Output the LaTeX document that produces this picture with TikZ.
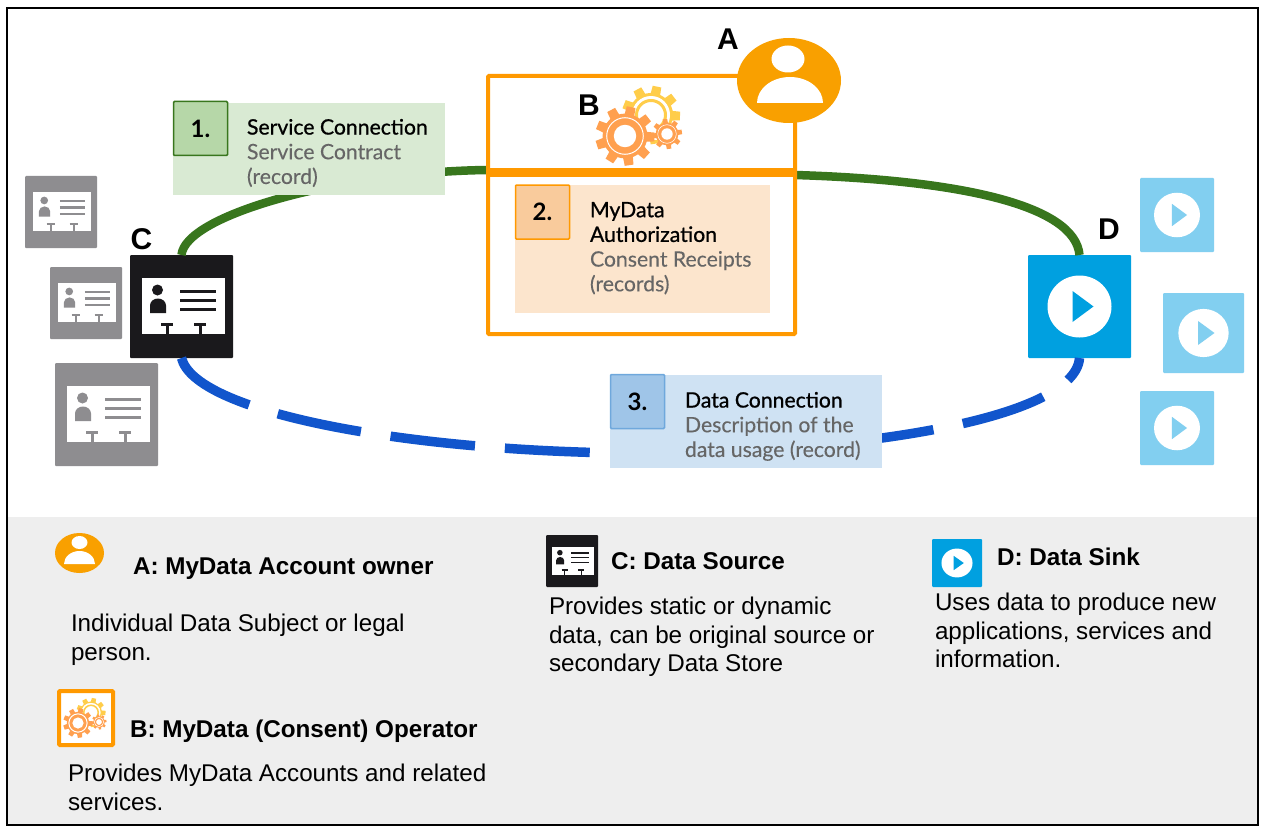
\documentclass[tikz,border=0pt]{standalone}
\usepackage{fontspec}
\usetikzlibrary{shapes.geometric}
\setmainfont{Liberation Sans}
\newfontfamily\latofont[FakeBold=0.2]{Lato}
\newfontfamily\latomed[FakeBold=0.8]{Lato}
\newfontfamily\latonum{Lato}
\definecolor{cgreen}{HTML}{38761D}
\definecolor{cblue}{HTML}{1155CC}
\definecolor{corange}{HTML}{FF9900}
\definecolor{cperson}{HTML}{F9A000}
\definecolor{cblack}{HTML}{1A191C}
\definecolor{cgrey}{HTML}{8E8D90}
\definecolor{csink}{HTML}{00A0E0}
\definecolor{clight}{HTML}{82CFF0}
\definecolor{gearO}{HTML}{FFA04F}
\definecolor{gearY}{HTML}{FFCD4A}
\definecolor{noteG}{HTML}{D9EAD3}
\definecolor{numG}{HTML}{B6D7A8}
\definecolor{noteO}{HTML}{FCE5CD}
\definecolor{numO}{HTML}{F9CB9C}
\definecolor{noteB}{HTML}{CFE2F3}
\definecolor{numB}{HTML}{9FC5E8}
\definecolor{edgeB}{HTML}{6FA8DC}
\definecolor{legendbg}{HTML}{EEEEEE}
\newcommand\cardicon[5]{%
  \node[iconbox,fill=#5,minimum size=#4] (#1) at (#2,#3) {};
  \begin{scope}[shift={(#1.center)},scale=#4/103]
    \fill[white] (-40,-28.5) rectangle (43.5,27.5);
    \fill[#5] (-24,-16.5) circle (5.5);
    \fill[#5] (-31.5,6.5) -- (-31.5,-1) arc[start angle=180,end angle=360,x radius=8,y radius=7] -- (-15.5,6.5) -- cycle;
    \foreach \yy in {-15.5,-6.5,2.5}{\draw[#5,line width=3pt*#4/103] (-1.5,\yy) -- (34.5,\yy);}
    \foreach \xx in {-14.5,18.5}{
      \draw[#5,line width=3pt*#4/103] (\xx,17) -- (\xx,28);
      \draw[#5,line width=3pt*#4/103] (\xx-6,17.5) -- (\xx+6,17.5);}
  \end{scope}}
\newcommand\sinkicon[6]{% name cx cy w h col
  \node[iconbox,fill=#6,minimum width=#4,minimum height=#5] (#1) at (#2,#3) {};
  \begin{scope}[shift={(#1.center)},xscale=#4/103,yscale=#5/103]
    \fill[white] (0,0) ellipse[x radius=32,y radius=31];
    \fill[#6] (-7,-15.5) -- (14,0) -- (-7,15.5) -- cycle;
  \end{scope}}
\newcommand\onegear[5]{% x y r teeth colour
  \begin{scope}[shift={(#1,#2)}]
    \fill[#5] (0,0) circle (#3*0.76);
    \foreach \k in {1,...,#4}{\fill[#5,rotate=\k*360/#4+8] (-#3*0.21,0) -- (#3*0.21,0) -- (#3*0.15,#3) -- (-#3*0.15,#3) -- cycle;}
    \draw[white,line width=1pt*#3/30] (0,0) circle (#3*0.62);
    \fill[white] (0,0) circle (#3*0.38);
  \end{scope}}
\newcommand\gearicon[3]{%
  \begin{scope}[shift={(#1,#2)},scale=#3]
    \onegear{26}{-21}{29}{9}{gearY}
    \fill[white] (26,-21) circle (19);
    \draw[gearY,line width=3pt*#3] (26,-21) circle (14.5);
    \fill[white] (18,-14) rectangle (32,4);
    \onegear{0}{0}{29.5}{9}{gearO}
    \onegear{42}{-2}{15}{8}{gearO}
  \end{scope}}
\tikzset{
  iconbox/.style={inner sep=0pt,outer sep=0pt,rounded corners=1pt,draw=none},
  notebox/.style={inner sep=0pt,outer sep=0pt,minimum width=#1},
  numbox/.style={inner sep=0pt,outer sep=0pt,rounded corners=1pt,minimum size=54pt,line width=1.5pt,font=\latonum\bfseries\fontsize{24}{26}\selectfont},
  boxtxt/.style={inner sep=0pt,outer sep=0pt,anchor=north west,align=left,font=\latofont\fontsize{21.2}{24.7}\selectfont},
  letter/.style={inner sep=0pt,outer sep=0pt,font=\bfseries\fontsize{30}{31}\selectfont},
  legendhead/.style={inner sep=0pt,outer sep=0pt,anchor=base west,font=\bfseries\fontsize{24.25}{28}\selectfont},
  legendtxt/.style={inner sep=0pt,outer sep=0pt,anchor=north west,align=left,font=\fontsize{24.2}{28.7}\selectfont},
  greenline/.style={cgreen,line width=8.5pt},
  blueline/.style={cblue,line width=9.5pt,dash pattern=on 85pt off 30pt},
  personhead/.style={ellipse,fill=cperson,inner sep=0pt,outer sep=0pt},
}
\begin{document}
\begin{tikzpicture}[x=1pt,y=-1pt]
\useasboundingbox (0,0) rectangle (1264,832);
\fill[white] (0,0) rectangle (1264,832);
\fill[legendbg] (8,517) rectangle (1257,824);
\draw[black,line width=2pt] (7,8) rectangle (1258,825);

\cardicon{cardCa}{61}{212}{72}{cgrey}
\cardicon{cardCb}{86}{303}{72}{cgrey}
\cardicon{cardCc}{106.5}{414.5}{103}{cgrey}
\cardicon{cardC}{181.5}{306.5}{103}{cblack}
\sinkicon{sinkDa}{1177}{215}{74}{74}{clight}
\sinkicon{sinkDb}{1203.5}{333}{81}{80}{clight}
\sinkicon{sinkDc}{1177}{428}{74}{74}{clight}
\sinkicon{sinkD}{1079.5}{306.5}{103}{103}{csink}

% connectors
\draw[greenline] (cardC.north) .. controls (185,215) and (340,172) .. (487,170) -- (795,175) .. controls (960,180) and (1075,205) .. (sinkD.north);
\draw[blueline] (cardC.south) .. controls (195,412) and (400,450) .. (620,453) .. controls (850,455) and (1075,420) .. (sinkD.south);

% note 1
\node[notebox=272,minimum height=92,fill=noteG] (noteA) at (309,149) {};
\node[numbox,draw=cgreen,fill=numG] (numA) at (200.5,128.5) {1.\hspace{7pt}};
\node[boxtxt] (txtA) at (247,119) {{\latomed Service Connection}\\\textcolor{black!60}{Service Contract}\\\textcolor{black!60}{(record)}};

% note 3
\node[notebox=272,minimum height=93,fill=noteB] (noteC) at (746,421.5) {};
\node[numbox,draw=edgeB,fill=numB] (numC) at (637.5,401.5) {3.\hspace{12pt}};
\node[boxtxt] (txtC) at (685,392) {{\latomed Data Connection}\\\textcolor{black!60}{Description of the}\\\textcolor{black!60}{data usage (record)}};

% operator
\node[draw=corange,fill=white,line width=4pt,inner sep=0pt,rounded corners=1pt,minimum width=307,minimum height=258] (opbox) at (641.5,205) {};
\draw[corange,line width=9pt] (opbox.west |- 0,173) -- (opbox.east |- 0,173);
\node[notebox=255,minimum height=128,fill=noteO] (noteBx) at (642.5,249) {};
\node[numbox,draw=corange,fill=numO] (numB) at (542.5,212) {2.\hspace{7pt}};
\node[boxtxt] (txtB) at (590,202) {{\latomed MyData}\\{\latomed Authorization}\\\textcolor{black!60}{Consent Receipts}\\\textcolor{black!60}{(records)}};
\gearicon{625}{136}{1}

% A person
\node[personhead,minimum width=104,minimum height=85] (personA) at (789,80.5) {};
\fill[white] (788,59) ellipse[x radius=16.5,y radius=13.5];
\fill[white] (757,103) arc[start angle=180,end angle=360,x radius=33,y radius=26] -- cycle;

\node[letter] (lA) at (728,39) {A};
\node[letter] (lB) at (589,105) {B};
\node[letter] (lC) at (141.5,239) {C};
\node[letter] (lD) at (1109,229) {D};

% legend
\node[personhead,minimum width=49,minimum height=40] (legA) at (79.5,553) {};
\fill[white] (79.5,542.5) ellipse[x radius=8,y radius=6.5];
\fill[white] (64,564) arc[start angle=180,end angle=360,x radius=15.5,y radius=13] -- cycle;
\node[legendhead] (hA) at (133,574) {A: MyData Account owner};
\node[legendtxt] (tA) at (71,614) {Individual Data Subject or legal\\person.};

\node[draw=corange,fill=white,line width=4pt,inner sep=0pt,rounded corners=1pt,minimum size=54] (legB) at (86,718) {};
\gearicon{78}{723}{0.5}
\node[legendhead] (hB) at (130,737) {B: MyData (Consent) Operator};
\node[legendtxt] (tB) at (68,764) {Provides MyData Accounts and related\\services.};

\cardicon{legC}{572}{561}{52}{cblack}
\node[legendhead] (hC) at (611,569) {C: Data Source};
\node[legendtxt] (tC) at (549,597) {Provides static or dynamic\\data, can be original source or\\secondary Data Store};

\sinkicon{legD}{957}{563}{50}{48}{csink}
\node[legendhead] (hD) at (997,565) {D: Data Sink};
\node[legendtxt] (tD) at (935,593) {Uses data to produce new\\applications, services and\\information.};
\end{tikzpicture}
\end{document}
